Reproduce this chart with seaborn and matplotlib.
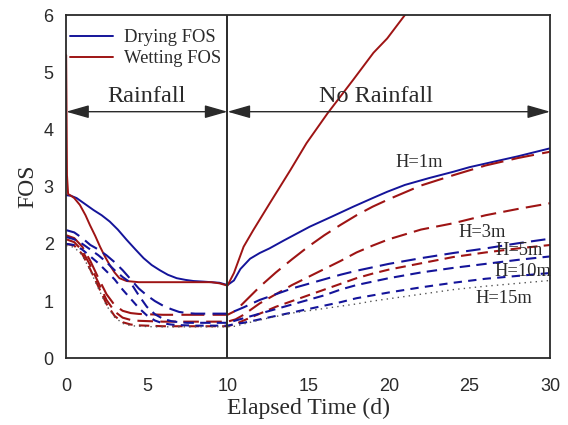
import matplotlib
matplotlib.use("Agg")
import matplotlib.pyplot as plt
import seaborn as sns
from matplotlib.lines import Line2D

# ---------------- data ----------------
dry_h1_t = [0, 0.3, 0.65, 1.0, 1.7, 2.2, 2.7, 3.2, 3.75, 4.3, 4.8, 5.3, 5.8, 6.3, 6.85, 7.4, 7.9, 8.5, 9.0, 9.5,
            10.0, 10.4, 10.8, 11.4, 12.0, 12.6, 13.5, 14.5, 15.1, 16.5, 17.8, 19.0, 19.9, 21.0, 22.5, 24.0, 25.0,
            26.1, 28.0, 30.0]
dry_h1 = [2.85, 2.84, 2.80, 2.73, 2.59, 2.50, 2.39, 2.25, 2.07, 1.90, 1.75, 1.63, 1.54, 1.46, 1.40, 1.37, 1.35,
          1.34, 1.33, 1.32, 1.28, 1.36, 1.56, 1.74, 1.84, 1.92, 2.06, 2.21, 2.30, 2.48, 2.65, 2.80, 2.91, 3.03,
          3.15, 3.26, 3.34, 3.41, 3.53, 3.67]

wet_h1_t = [0, 0.05, 0.12, 0.25, 0.5, 0.85, 1.2, 1.47, 1.8, 2.1, 2.4, 2.7, 3.0, 3.3, 3.75, 4.5, 6.0, 8.0, 9.0,
            9.5, 10.0, 10.4, 11.0, 11.6, 12.6, 13.9, 14.9, 16.2, 17.8, 19.05, 19.9, 21.0, 21.5]
wet_h1 = [5.3, 3.2, 2.87, 2.85, 2.80, 2.68, 2.50, 2.33, 2.14, 1.95, 1.78, 1.63, 1.50, 1.40, 1.35, 1.33, 1.33,
          1.33, 1.33, 1.31, 1.27, 1.49, 1.95, 2.24, 2.70, 3.29, 3.76, 4.28, 4.87, 5.34, 5.59, 6.00, 6.20]

t_grid = [0, 0.5, 1, 1.5, 2, 2.5, 3, 3.5, 4, 4.5, 5, 5.5, 6, 6.5, 7, 7.5, 8, 9, 10, 10.5, 11, 12, 13, 14,
          15, 16, 17, 18, 19, 20, 22, 24, 26, 28, 30]

wet_a = [2.15, 2.10, 1.95, 1.70, 1.40, 1.12, 0.93, 0.83, 0.79, 0.775, 0.77, 0.765, 0.76, 0.76, 0.76, 0.76,
         0.76, 0.76, 0.76, 0.83, 0.97, 1.25, 1.50, 1.73, 1.95, 2.15, 2.33, 2.50, 2.65, 2.78, 3.02, 3.20, 3.37,
         3.50, 3.61]
wet_b = [2.08, 2.03, 1.88, 1.62, 1.32, 1.02, 0.82, 0.71, 0.67, 0.655, 0.65, 0.645, 0.64, 0.64, 0.64, 0.64,
         0.64, 0.64, 0.64, 0.68, 0.76, 0.96, 1.12, 1.28, 1.42, 1.56, 1.70, 1.85, 1.97, 2.08, 2.25, 2.36, 2.50,
         2.61, 2.71]
wet_c = [2.00, 1.97, 1.82, 1.55, 1.25, 0.95, 0.74, 0.63, 0.59, 0.575, 0.57, 0.565, 0.56, 0.56, 0.56, 0.56,
         0.56, 0.56, 0.56, 0.60, 0.66, 0.78, 0.90, 1.00, 1.10, 1.20, 1.30, 1.40, 1.48, 1.55, 1.66, 1.77, 1.85,
         1.92, 1.98]
dry_a = [2.24, 2.20, 2.10, 1.98, 1.90, 1.80, 1.68, 1.54, 1.38, 1.22, 1.10, 1.00, 0.92, 0.86, 0.81, 0.79,
         0.78, 0.78, 0.78, 0.83, 0.89, 1.02, 1.12, 1.22, 1.30, 1.38, 1.46, 1.53, 1.59, 1.65, 1.75, 1.84, 1.92,
         2.01, 2.09]
dry_b = [2.12, 2.08, 2.00, 1.90, 1.80, 1.68, 1.54, 1.42, 1.32, 1.10, 0.90, 0.77, 0.69, 0.65, 0.63, 0.62,
         0.62, 0.62, 0.62, 0.66, 0.70, 0.78, 0.86, 0.94, 1.02, 1.10, 1.20, 1.28, 1.34, 1.40, 1.50, 1.58, 1.65,
         1.72, 1.78]
dry_c = [2.00, 1.98, 1.90, 1.78, 1.66, 1.52, 1.38, 1.20, 1.04, 0.88, 0.75, 0.66, 0.61, 0.59, 0.58, 0.575,
         0.57, 0.57, 0.57, 0.60, 0.62, 0.68, 0.74, 0.80, 0.86, 0.92, 0.98, 1.05, 1.10, 1.15, 1.24, 1.32, 1.39,
         1.44, 1.49]
h15 = [1.97, 1.94, 1.80, 1.53, 1.22, 0.92, 0.72, 0.61, 0.57, 0.56, 0.555, 0.55, 0.55, 0.55, 0.55, 0.55,
       0.55, 0.55, 0.55, 0.56, 0.60, 0.67, 0.73, 0.79, 0.83, 0.87, 0.91, 0.95, 1.00, 1.04, 1.12, 1.20, 1.26,
       1.31, 1.36]

h_labels = ["H=1m", "H=3m", "H=5m", "H=10m", "H=15m"]
h_label_t = [21.9, 25.8, 28.1, 28.3, 27.1]
h_label_y = [3.42, 2.19, 1.88, 1.51, 1.05]

legend_labels = ["Drying FOS", "Wetting FOS"]
phase_labels = ["Rainfall", "No Rainfall"]

# ---------------- style ----------------
BLUE = "#14149a"
RED = "#9e1414"
DARK = "#2a2a2a"

sns.set_theme(style="white")
plt.rcParams["font.family"] = ["Liberation Sans", "DejaVu Sans"]

fig = plt.figure(figsize=(5.68, 4.25), dpi=100)
ax = fig.add_axes([0.1165, 0.157, 0.852, 0.8077])

series = [
    (dry_h1_t, dry_h1, BLUE, 1.4, None),
    (wet_h1_t, wet_h1, RED, 1.4, None),
    (t_grid, wet_a, RED, 1.5, (11, 4)),
    (t_grid, wet_b, RED, 1.5, (7.5, 3.5)),
    (t_grid, dry_a, BLUE, 1.5, (7, 3.5)),
    (t_grid, wet_c, RED, 1.5, (5, 3)),
    (t_grid, dry_b, BLUE, 1.5, (5, 3)),
    (t_grid, dry_c, BLUE, 1.5, (4, 3)),
    (t_grid, h15, "#555555", 1.0, (1, 3)),
]
for tx, vy, col, lw, dash in series:
    sns.lineplot(x=tx, y=vy, ax=ax, color=col, linewidth=lw, legend=False, estimator=None, sort=False)
    line = ax.lines[-1]
    if dash is not None:
        line.set_dashes(dash)

ax.axvline(10, color=DARK, lw=1.4, zorder=5)

ax.set_xlim(0, 30)
ax.set_ylim(0, 6)
ax.set_xticks([0, 5, 10, 15, 20, 25, 30])
ax.set_yticks([0, 1, 2, 3, 4, 5, 6])
ax.tick_params(direction="out", length=4, width=1, colors=DARK, labelsize=13, pad=5)
ax.tick_params(axis="x", pad=10)
for sp in ax.spines.values():
    sp.set_color(DARK)
    sp.set_linewidth(1.3)

serif = ["Liberation Serif", "DejaVu Serif"]
ax.set_xlabel("Elapsed Time (d)", family=serif, fontsize=17, color=DARK, labelpad=2)
ax.set_ylabel("FOS", family=serif, fontsize=17, color=DARK, labelpad=4)

# phase arrows
arrow_y = 4.31
for x0, x1 in [(0, 10), (10, 30)]:
    ax.annotate("", xy=(x0, arrow_y), xytext=(x1, arrow_y),
                arrowprops=dict(arrowstyle="<|-|>,head_length=0.7,head_width=0.2",
                                color=DARK, lw=1.0, shrinkA=0, shrinkB=0, mutation_scale=20))
ax.text(5, 4.57, phase_labels[0], family=serif, fontsize=17.5, color=DARK, ha="center", va="center")
ax.text(19.2, 4.57, phase_labels[1], family=serif, fontsize=17.5, color=DARK, ha="center", va="center")

for lab, tx, ty in zip(h_labels, h_label_t, h_label_y):
    ax.text(tx, ty, lab, family=serif, fontsize=13.3, color=DARK, ha="center", va="center")

handles = [Line2D([0], [0], color=BLUE, lw=1.4), Line2D([0], [0], color=RED, lw=1.4)]
leg = ax.legend(handles, legend_labels, loc="upper left", bbox_to_anchor=(-0.003, 0.975), frameon=False,
                prop={"family": serif, "size": 13.4}, handlelength=2.3, handletextpad=0.6,
                labelspacing=0.22, borderaxespad=0.0, borderpad=0.3)
for txt in leg.get_texts():
    txt.set_color(DARK)

fig.savefig("out.png", dpi=100)
